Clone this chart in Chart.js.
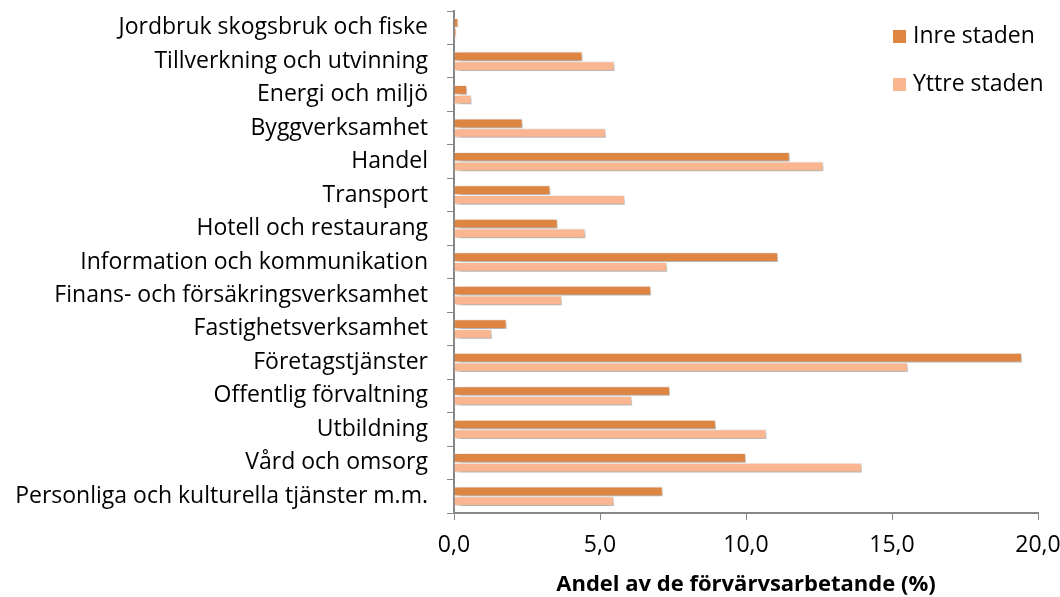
<!DOCTYPE html>
<html><head><meta charset="utf-8">
<script src="https://cdn.jsdelivr.net/npm/chart.js@4.4.0/dist/chart.umd.min.js"></script>
<style>html,body{margin:0;padding:0;background:#fff}#wrap{width:1060px;height:597px}</style>
</head><body><div id="wrap"><canvas id="c" width="1060" height="597"></canvas></div>
<script>
const categories = ["Jordbruk skogsbruk och fiske","Tillverkning och utvinning","Energi och miljö","Byggverksamhet","Handel","Transport","Hotell och restaurang","Information och kommunikation","Finans- och försäkringsverksamhet","Fastighetsverksamhet","Företagstjänster","Offentlig förvaltning","Utbildning","Vård och omsorg","Personliga och kulturella tjänster m.m."];
const inreStaden = [0.15,4.4,0.45,2.35,11.5,3.3,3.55,11.1,6.75,1.8,19.45,7.4,8.97,10.0,7.15];
const yttreStaden = [0.1,5.5,0.6,5.2,12.65,5.85,4.5,7.3,3.7,1.3,15.55,6.1,10.7,13.97,5.48];
const seriesNames = ["Inre staden","Yttre staden"];
const xTickLabels = ["0,0","5,0","10,0","15,0","20,0"];
const axisTitle = "Andel av de förvärvsarbetande (%)";

const FONT = "'Open Sans', sans-serif";
const colors = ["#DE8542","#F9B690"];

const shadowPlugin = {
  id:'shadow',
  beforeDatasetsDraw(chart){const ctx=chart.ctx;ctx.save();ctx.shadowColor='rgba(0,0,0,0.4)';ctx.shadowBlur=6;ctx.shadowOffsetX=3;ctx.shadowOffsetY=3;},
  afterDatasetsDraw(chart){chart.ctx.restore();}
};
const textPlugin = {
  id:'customText',
  afterDraw(chart){
    const ctx=chart.ctx;ctx.save();
    ctx.font="23px "+FONT;ctx.textBaseline='middle';ctx.textAlign='left';
    const ys=[36,84];
    chart.data.datasets.forEach((ds,i)=>{
      ctx.fillStyle=ds.backgroundColor;ctx.fillRect(893,ys[i]-6,13,13);
      ctx.fillStyle='#000';ctx.fillText(ds.label,913,ys[i]);
    });
    ctx.font="bold 22px "+FONT;ctx.textAlign='center';
    const ca=chart.chartArea;
    ctx.fillText(axisTitle,(ca.left+ca.right)/2,585);
    ctx.restore();
  }
};

new Chart(document.getElementById('c'),{
  type:'bar',
  data:{labels:categories,datasets:[
    {label:seriesNames[0],data:inreStaden,backgroundColor:colors[0],borderColor:'#fff',borderWidth:1,categoryPercentage:0.58,barPercentage:1},
    {label:seriesNames[1],data:yttreStaden,backgroundColor:colors[1],borderColor:'#fff',borderWidth:1,categoryPercentage:0.58,barPercentage:1}
  ]},
  options:{
    indexAxis:'y',responsive:false,animation:false,
    layout:{padding:{left:7,right:22,top:11,bottom:0}},
    plugins:{legend:{display:false},tooltip:{enabled:false}},
    scales:{
      x:{min:0,max:20,
        ticks:{stepSize:5,color:'#000',font:{family:FONT,size:23},padding:12,callback:(v,i)=>xTickLabels[i]},
        grid:{drawOnChartArea:false,drawTicks:true,tickLength:7,color:'#888',lineWidth:1},
        border:{color:'#888',width:2},
        afterFit(s){s.height=84;s.paddingLeft=0;s.paddingRight=0;}
      },
      y:{
        ticks:{color:'#000',font:{family:FONT,size:23},padding:19,autoSkip:false},
        grid:{drawOnChartArea:false,offset:true,tickLength:7,color:'#888',lineWidth:1},
        border:{color:'#888',width:2},
        afterFit(s){s.width=447;s.paddingTop=0;s.paddingBottom=0;}
      }
    }
  },
  plugins:[shadowPlugin,textPlugin]
});
</script></body></html>
